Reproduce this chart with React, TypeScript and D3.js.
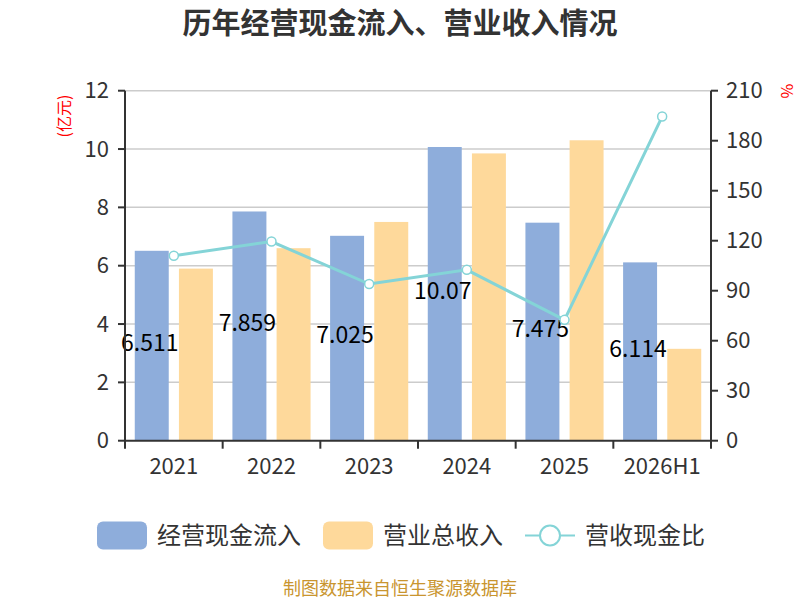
import { useRef, useEffect } from 'react';
import * as d3 from 'd3';

const years = ['2021', '2022', '2023', '2024', '2025', '2026H1'];
const cashInflow = [6.511, 7.859, 7.025, 10.07, 7.475, 6.114];
const revenue = [5.9, 6.6, 7.5, 9.85, 10.3, 3.15];
const ratio = [111, 119.5, 94, 102.5, 72.5, 194.5];
const leftTicks = [0, 2, 4, 6, 8, 10, 12];
const rightTicks = [0, 30, 60, 90, 120, 150, 180, 210];

const W = 800;
const H = 600;
const margin = { top: 90.7, right: 89, bottom: 159.3, left: 125 };
const FONT = '"Noto Sans CJK SC", "Noto Sans", sans-serif';

const BLUE = '#8eaddb';
const ORANGE = '#fed99b';
const TEAL = '#84d4d7';
const AXIS = '#333';

export default function App() {
  const svgRef = useRef<SVGSVGElement>(null);

  useEffect(() => {
    const svg = d3.select(svgRef.current);
    if (!svg.node()) return;
    svg.selectAll('*').remove();

    const x0 = margin.left;
    const x1 = W - margin.right;
    const y0 = H - margin.bottom;
    const y1 = margin.top;

    const xScale = d3.scaleBand<string>().domain(years).range([x0, x1]).padding(0);
    const yLeft = d3.scaleLinear().domain([0, 12]).range([y0, y1]);
    const yRight = d3.scaleLinear().domain([0, 210]).range([y0, y1]);

    const bw = xScale.bandwidth();
    const barW = (bw * 0.8) / 2.3;
    const barGap = barW * 0.3;
    const sidePad = bw * 0.1;

    const g = svg.append('g').style('font-family', FONT);

    // title
    g.append('text')
      .attr('x', W / 2)
      .attr('y', 34)
      .attr('text-anchor', 'middle')
      .style('font-size', '29px')
      .style('font-weight', 'bold')
      .style('fill', AXIS)
      .text('历年经营现金流入、营业收入情况');

    // grid
    g.append('g')
      .selectAll('line')
      .data(leftTicks.slice(1))
      .enter()
      .append('line')
      .attr('x1', x0)
      .attr('x2', x1)
      .attr('y1', d => yLeft(d))
      .attr('y2', d => yLeft(d))
      .attr('stroke', '#ccc')
      .attr('stroke-width', 1.5);

    // blue bars
    g.append('g')
      .selectAll('rect')
      .data(cashInflow)
      .enter()
      .append('rect')
      .attr('x', (d, i) => (xScale(years[i]) || 0) + sidePad)
      .attr('y', d => yLeft(d))
      .attr('width', barW)
      .attr('height', d => y0 - yLeft(d))
      .attr('fill', BLUE);

    // blue labels (drawn under the orange bars)
    g.append('g')
      .selectAll('text')
      .data(cashInflow)
      .enter()
      .append('text')
      .attr('x', (d, i) => (xScale(years[i]) || 0) + sidePad + barW / 2 - 2)
      .attr('y', d => (yLeft(d) + y0) / 2 + 5)
      .attr('text-anchor', 'middle')
      .style('font-size', '23px')
      .style('fill', '#000')
      .text(d => String(d));

    // orange bars
    g.append('g')
      .selectAll('rect')
      .data(revenue)
      .enter()
      .append('rect')
      .attr('x', (d, i) => (xScale(years[i]) || 0) + sidePad + barW + barGap)
      .attr('y', d => yLeft(d))
      .attr('width', barW)
      .attr('height', d => y0 - yLeft(d))
      .attr('fill', ORANGE);

    // axes
    const axisG = g.append('g');
    axisG.append('line').attr('x1', x0).attr('x2', x0).attr('y1', y1).attr('y2', y0)
      .attr('stroke', AXIS).attr('stroke-width', 2);
    axisG.append('line').attr('x1', x1).attr('x2', x1).attr('y1', y1).attr('y2', y0)
      .attr('stroke', AXIS).attr('stroke-width', 2);
    axisG.append('line').attr('x1', x0).attr('x2', x1).attr('y1', y0).attr('y2', y0)
      .attr('stroke', AXIS).attr('stroke-width', 2);

    leftTicks.forEach(t => {
      const y = yLeft(t);
      axisG.append('line').attr('x1', x0 - 7).attr('x2', x0).attr('y1', y).attr('y2', y)
        .attr('stroke', AXIS).attr('stroke-width', 2);
      axisG.append('text')
        .attr('x', x0 - 16)
        .attr('y', y)
        .attr('dy', '0.35em')
        .attr('text-anchor', 'end')
        .style('font-size', '22px')
        .style('fill', AXIS)
        .text(String(t));
    });

    rightTicks.forEach(t => {
      const y = yRight(t);
      axisG.append('line').attr('x1', x1).attr('x2', x1 + 7).attr('y1', y).attr('y2', y)
        .attr('stroke', AXIS).attr('stroke-width', 2);
      axisG.append('text')
        .attr('x', x1 + 15)
        .attr('y', y)
        .attr('dy', '0.35em')
        .attr('text-anchor', 'start')
        .style('font-size', '22px')
        .style('fill', AXIS)
        .text(String(t));
    });

    const bounds = years.map(y => xScale(y) || 0).concat([x1]);
    bounds.forEach(bx => {
      axisG.append('line').attr('x1', bx).attr('x2', bx).attr('y1', y0).attr('y2', y0 + 8)
        .attr('stroke', AXIS).attr('stroke-width', 2);
    });
    years.forEach(yr => {
      axisG.append('text')
        .attr('x', (xScale(yr) || 0) + bw / 2)
        .attr('y', y0 + 26)
        .attr('dy', '0.35em')
        .attr('text-anchor', 'middle')
        .style('font-size', '22px')
        .style('fill', AXIS)
        .text(yr);
    });

    // unit labels
    g.append('text')
      .attr('transform', `translate(64, 116) rotate(-90)`)
      .attr('text-anchor', 'middle')
      .attr('dy', '0.35em')
      .style('font-size', '16px')
      .style('fill', 'red')
      .text('(亿元)');
    g.append('text')
      .attr('transform', `translate(787, 91) rotate(90)`)
      .attr('text-anchor', 'middle')
      .attr('dy', '0.35em')
      .style('font-size', '16px')
      .style('fill', 'red')
      .text('%');

    // ratio line
    const line = d3.line<number>()
      .x((d, i) => (xScale(years[i]) || 0) + bw / 2)
      .y(d => yRight(d));
    g.append('path')
      .datum(ratio)
      .attr('d', line)
      .attr('fill', 'none')
      .attr('stroke', TEAL)
      .attr('stroke-width', 3);
    g.append('g')
      .selectAll('circle')
      .data(ratio)
      .enter()
      .append('circle')
      .attr('cx', (d, i) => (xScale(years[i]) || 0) + bw / 2)
      .attr('cy', d => yRight(d))
      .attr('r', 4.5)
      .attr('fill', '#fff')
      .attr('stroke', TEAL)
      .attr('stroke-width', 1.5);

    // legend
    const legendY = 535.5;
    const lg = g.append('g');
    const items = [
      { name: '经营现金流入', kind: 'bar', color: BLUE, x: 97 },
      { name: '营业总收入', kind: 'bar', color: ORANGE, x: 323 },
      { name: '营收现金比', kind: 'line', color: TEAL, x: 525 },
    ];
    items.forEach(it => {
      if (it.kind === 'bar') {
        lg.append('rect')
          .attr('x', it.x)
          .attr('y', legendY - 14)
          .attr('width', 50)
          .attr('height', 28)
          .attr('rx', 6)
          .attr('fill', it.color);
      } else {
        lg.append('line')
          .attr('x1', it.x).attr('x2', it.x + 50)
          .attr('y1', legendY).attr('y2', legendY)
          .attr('stroke', it.color).attr('stroke-width', 2);
        lg.append('circle')
          .attr('cx', it.x + 25).attr('cy', legendY).attr('r', 10)
          .attr('fill', '#fff').attr('stroke', it.color).attr('stroke-width', 2);
      }
      lg.append('text')
        .attr('x', it.x + 60)
        .attr('y', legendY)
        .attr('dy', '0.35em')
        .style('font-size', '24px')
        .style('fill', AXIS)
        .text(it.name);
    });

    // footer
    g.append('text')
      .attr('x', W / 2)
      .attr('y', 589)
      .attr('dy', '0.35em')
      .attr('text-anchor', 'middle')
      .style('font-size', '18px')
      .style('fill', '#c9952f')
      .text('制图数据来自恒生聚源数据库');
  }, []);

  return (
    <svg
      ref={svgRef}
      width={W}
      height={H}
      style={{ position: 'absolute', left: 0, top: 0, background: '#fff' }}
    />
  );
}
